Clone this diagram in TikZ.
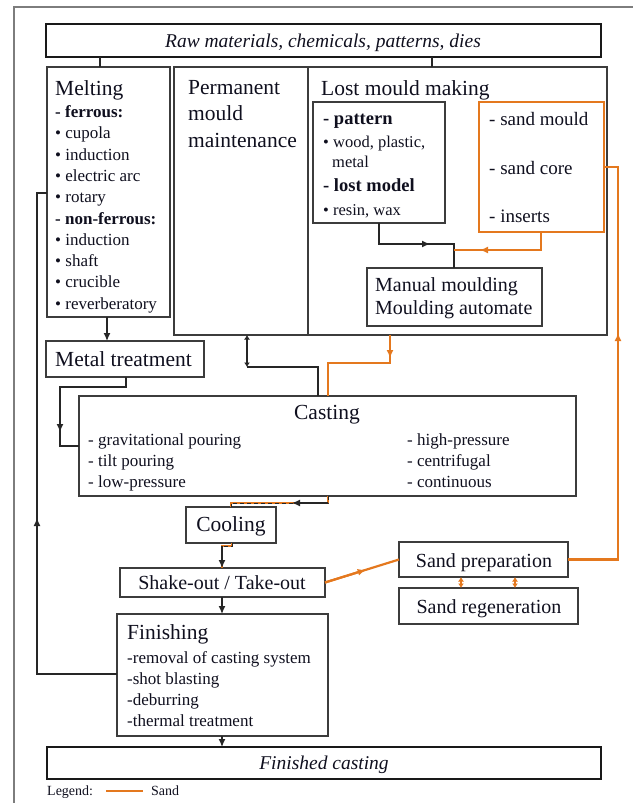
\documentclass[tikz,border=0pt]{standalone}
\usepackage{fontspec}
\setmainfont{Liberation Serif}
\usetikzlibrary{arrows.meta,calc}
\definecolor{sandc}{RGB}{228,120,30}
\definecolor{edgec}{RGB}{60,60,60}
\definecolor{inkc}{RGB}{15,15,30}
\definecolor{framec}{RGB}{125,125,125}
\newcommand\FTitle{\fontsize{21.5}{26.5}\selectfont}
\newcommand\FItem{\fontsize{17}{21.3}\selectfont}
\newcommand\FSmall{\fontsize{16.5}{20}\selectfont}
\newcommand\FBold{\fontsize{18.5}{22}\selectfont\bfseries}
\newcommand\FSand{\fontsize{19}{23}\selectfont}
\newcommand\FMan{\fontsize{20}{23}\selectfont}
\newcommand\FRaw{\fontsize{19.5}{23}\selectfont\itshape}
\newcommand\FLeg{\fontsize{14}{16}\selectfont}
\tikzset{
  box/.style={draw=edgec, line width=1.5pt, inner sep=0pt, outer sep=0pt, anchor=north west},
  endbox/.style={draw=black!90, line width=2.5pt, inner sep=0pt, outer sep=0pt, anchor=north west},
  sbox/.style={draw=sandc, line width=2pt, inner sep=0pt, outer sep=0pt, anchor=north west},
  txt/.style={inner sep=0pt, text=inkc, anchor=base west},
  ctxt/.style={inner sep=0pt, text=inkc, anchor=base},
  conn/.style={draw=black!85, line width=1.3pt},
  sandl/.style={draw=sandc, line width=2.2pt},
  arr/.style={-{Latex[length=8pt,width=7pt]}},
  darr/.style={{Latex[length=4.5pt,width=6pt]}-{Latex[length=4.5pt,width=6pt]}},
}
\begin{document}
\begin{tikzpicture}[x=1pt,y=-1pt]
\useasboundingbox (0,0) rectangle (633,803);
% outer frame
\draw[framec, line width=1.8pt] (14,803) -- (14,7) -- (633,7);

% boxes
\node[endbox, minimum width=555, minimum height=33] (raw) at (46,24) {};
\node[box, minimum width=123, minimum height=250] (melt) at (47,67) {};
\node[box, minimum width=134, minimum height=268] (perm) at (174,67) {};
\node[box, minimum width=299, minimum height=268] (lost) at (308,67) {};
\node[box, minimum width=132, minimum height=121] (pat) at (313,102) {};
\node[sbox, minimum width=125, minimum height=130] (sand) at (479,102) {};
\node[box, minimum width=175, minimum height=58] (man) at (367,268) {};
\node[box, minimum width=158, minimum height=36] (metal) at (46,341) {};
\node[box, minimum width=497, minimum height=100] (cast) at (79,396) {};
\node[box, minimum width=90, minimum height=36] (cool) at (186,507) {};
\node[box, minimum width=205, minimum height=29] (shake) at (120,568) {};
\node[box, minimum width=169, minimum height=35] (prep) at (399,542) {};
\node[box, minimum width=179, minimum height=36] (regen) at (399,588) {};
\node[box, minimum width=211, minimum height=122] (fin) at (117,614) {};
\node[endbox, minimum width=554, minimum height=32] (fincast) at (47,747) {};

% texts
\node[ctxt, font=\FRaw] (rawT) at (323,47) {Raw materials, chemicals, patterns, dies};
\node[txt, font=\FTitle] (meltT) at (55,95) {Melting};
\node[txt, font=\FItem] (meltI) at (55,117.5) {\begin{tabular}[t]{@{}l@{}}\textbf{- ferrous:}\\ • cupola\\ • induction\\ • electric arc\\ • rotary\\ \textbf{- non-ferrous:}\\ • induction\\ • shaft\\ • crucible\\ • reverberatory\end{tabular}};
\node[txt, font=\FTitle] (permT) at (188,94) {\begin{tabular}[t]{@{}l@{}}Permanent\\ mould\\ maintenance\end{tabular}};
\node[txt, font=\FTitle] (lostT) at (321,95) {Lost mould making};
\node[txt, font=\FBold] (patA) at (323,124.5) {- pattern};
\node[txt, font=\FSmall] (patB) at (323,147) {• wood, plastic,};
\node[txt, font=\FSmall] (patC) at (332,167) {metal};
\node[txt, font=\FBold] (patD) at (323,191) {- lost model};
\node[txt, font=\FSmall] (patE) at (323,215) {• resin, wax};
\node[txt, font=\FSand] (sandA) at (489,125) {- sand mould};
\node[txt, font=\FSand] (sandB) at (489,174) {- sand core};
\node[txt, font=\FSand] (sandC) at (489,222) {- inserts};
\node[txt, font=\FMan] (manT) at (375,291) {\begin{tabular}[t]{@{}l@{}}Manual moulding\\ Moulding automate\end{tabular}};
\node[txt, font=\FTitle] (metalT) at (55,366) {Metal treatment};
\node[ctxt, font=\FTitle] (castT) at (327,419) {Casting};
\node[txt, font=\FItem] (castL) at (88,445) {\begin{tabular}[t]{@{}l@{}}- gravitational pouring\\ - tilt pouring\\ - low-pressure\end{tabular}};
\node[txt, font=\FItem] (castR) at (407,445) {\begin{tabular}[t]{@{}l@{}}- high-pressure\\ - centrifugal\\ - continuous\end{tabular}};
\node[ctxt, font=\FTitle] (coolT) at (231,531) {Cooling};
\node[ctxt, font=\FMan] (shakeT) at (222,589) {Shake-out / Take-out};
\node[ctxt, font=\FMan] (prepT) at (484,567) {Sand preparation};
\node[ctxt, font=\FMan] (regenT) at (489,613) {Sand regeneration};
\node[txt, font=\FTitle] (finT) at (127,639) {Finishing};
\node[txt, font=\FItem] (finI) at (127,663) {\begin{tabular}[t]{@{}l@{}}-removal of casting system\\ -shot blasting\\ -deburring\\ -thermal treatment\end{tabular}};
\node[ctxt, font=\FRaw] (fincT) at (324,769) {Finished casting};
\node[txt, font=\FLeg] (legT) at (47,795) {Legend:};
\draw[sandl] (106,791) -- (143,791);
\node[txt, font=\FLeg] (legS) at (151,795) {Sand};

% coordinates for connectors
\coordinate (xA) at (100,0);
\coordinate (xB) at (432,0);
\coordinate (xC) at (107,0);
\coordinate (d1) at (379,244);
\coordinate (jn) at (454,244);
\coordinate (dA) at (430,244);
\coordinate (e1) at (541,250);
\coordinate (e2) at (454,250);
\coordinate (eA) at (480,250);
\coordinate (f1) at (390,363);
\coordinate (f2) at (328,363);
\coordinate (fA) at (390,358);
\coordinate (g1) at (247,367);
\coordinate (g2) at (318,367);
\coordinate (h1) at (126,387);
\coordinate (h2) at (60,387);
\coordinate (h3) at (60,446);
\coordinate (hA) at (60,432);
\coordinate (i1) at (328,503);
\coordinate (i2) at (231,503);
\coordinate (iA) at (292,503);
\coordinate (j1) at (232,546);
\coordinate (j2) at (222,546);
\coordinate (xL) at (618,0);
\coordinate (lA) at (618,333);
\coordinate (m1) at (461,0);
\coordinate (m2) at (515,0);
\coordinate (xN) at (222,0);
\coordinate (p1) at (37,674);
\coordinate (p2) at (37,193);
\coordinate (pA) at (37,518);

% connectors
\draw[conn] (raw.south -| xA) -- (melt.north -| xA);
\draw[conn] (raw.south -| xB) -- (lost.north -| xB);
\draw[conn, arr] (melt.south -| xC) -- (metal.north -| xC);
\draw[conn] (pat.south -| d1) -- (d1) -- (jn) -- (man.north -| jn);
\draw[conn, arr] (d1) -- (dA);
\draw[sandl] (sand.south -| e1) -- (e1) -- (e2);
\draw[sandl, arr] (e1) -- (eA);
\draw[sandl] (lost.south -| f1) -- (f1) -- (f2) -- (cast.north -| f2);
\draw[sandl, arr] (lost.south -| f1) -- (fA);
\draw[conn, darr] (perm.south -| g1) -- (g1);
\draw[conn] (g1) -- (g2) -- (cast.north -| g2);
\draw[conn] (metal.south -| h1) -- (h1) -- (h2) -- (h3) -- (cast.west |- h3);
\draw[conn, arr] (h2) -- (hA);
% casting -> cooling (mixed)
\draw[sandl] (cast.south -| i1) -- (i1) -- (i2) -- (cool.north -| i2);
\draw[conn, line width=0.9pt, dash pattern=on 4pt off 3pt] (cast.south -| i1) -- (i1) -- (i2) -- (cool.north -| i2);
\draw[conn, arr] (i1) -- (iA);
% cooling -> shake-out (mixed)
\draw[sandl] (cool.south -| j1) -- (j1) -- (j2) -- (shake.north -| j2);
\draw[conn, line width=0.9pt, dash pattern=on 4pt off 3pt] (cool.south -| j1) -- (j1) -- (j2) -- (shake.north -| j2);
\draw[conn, arr] (j2) -- (shake.north -| j2);
% shake-out -> sand preparation
\draw[sandl] (shake.east) -- (prep.west);
\draw[sandl, arr] (shake.east) -- ($(shake.east)!0.55!(prep.west)$);
% sand preparation -> sand box
\draw[sandl] (prep.east) -- (prep.east -| xL) -- (sand.east -| xL) -- (sand.east);
\draw[sandl, arr] (prep.east -| xL) -- (lA);
% preparation <-> regeneration
\draw[sandl, darr] (prep.south -| m1) -- (regen.north -| m1);
\draw[sandl, darr] (prep.south -| m2) -- (regen.north -| m2);
% shake-out -> finishing -> finished casting
\draw[conn, arr] (shake.south -| xN) -- (fin.north -| xN);
\draw[conn, arr] (fin.south -| xN) -- (fincast.north -| xN);
% finishing -> melting (return)
\draw[conn] (fin.west |- p1) -- (p1) -- (p2) -- (melt.west |- p2);
\draw[conn, arr] (p1) -- (pA);
\end{tikzpicture}
\end{document}
